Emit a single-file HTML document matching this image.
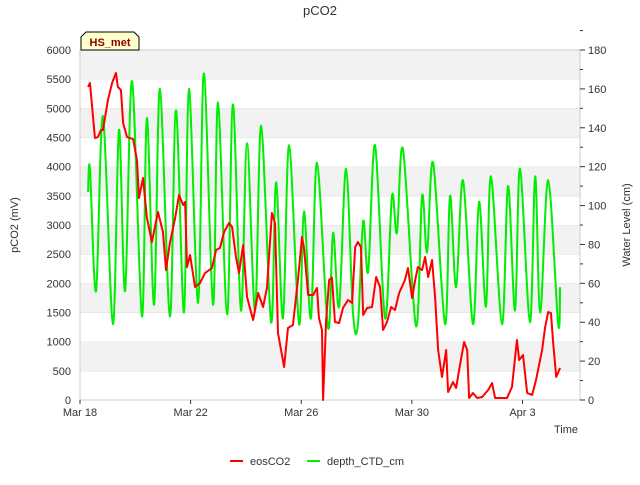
<!DOCTYPE html>
<html><head><meta charset="utf-8"><style>
body{margin:0;background:#fff}
svg text{font-family:"Liberation Sans","DejaVu Sans",sans-serif;fill:#333}
</style></head><body>
<svg id="chart" width="640" height="480" viewBox="0 0 640 480">
<g id="bands"></g>
<g id="axes"></g>
<g id="series" fill="none" stroke-linejoin="round"></g>
<text x="320" y="15" text-anchor="middle" font-size="13">pCO2</text>
<text transform="translate(18,225) rotate(-90)" text-anchor="middle" font-size="11">pCO2 (mV)</text>
<text transform="translate(630,225) rotate(-90)" text-anchor="middle" font-size="11">Water Level (cm)</text>
<text x="566" y="433" text-anchor="middle" font-size="11">Time</text>
<g>
<path d="M81,50 L81,37 L86,32 L134,32 L139,37 L139,50 Z" fill="#ffffcc" stroke="#000" stroke-width="1"/>
<text x="110" y="46" text-anchor="middle" font-size="11" font-weight="bold" style="fill:#8b0000">HS_met</text>
</g>
<g>
<line x1="230" y1="461" x2="243" y2="461" stroke="#ff0000" stroke-width="2"/>
<text x="250" y="465" font-size="11">eosCO2</text>
</g>
<g>
<line x1="307" y1="461" x2="320" y2="461" stroke="#00ee00" stroke-width="2"/>
<text x="327" y="465" font-size="11">depth_CTD_cm</text>
</g>
</svg>
<script>
const xTickDays=[0,4,8,12,16];
const xTickLabels=["Mar 18","Mar 22","Mar 26","Mar 30","Apr 3"];
const leftTicks=[0,500,1000,1500,2000,2500,3000,3500,4000,4500,5000,5500,6000];
const rightTicks=[0,20,40,60,80,100,120,140,160,180];
const co2Days=[0.29,0.36,0.54,0.65,0.76,0.83,1.01,1.16,1.30,1.37,1.48,1.56,1.70,1.92,2.06,2.13,2.28,2.42,2.60,2.82,3.00,3.11,3.25,3.44,3.58,3.73,3.80,3.87,3.98,4.16,4.34,4.52,4.77,4.92,5.06,5.21,5.39,5.50,5.64,5.75,5.90,6.04,6.26,6.44,6.62,6.76,6.94,7.05,7.16,7.38,7.52,7.70,7.88,8.03,8.10,8.25,8.43,8.57,8.64,8.75,8.79,8.90,9.01,9.11,9.22,9.37,9.51,9.69,9.84,9.95,10.05,10.16,10.24,10.38,10.56,10.71,10.85,10.96,11.10,11.25,11.39,11.54,11.75,11.86,12.01,12.12,12.22,12.37,12.48,12.59,12.73,12.84,12.95,13.09,13.24,13.31,13.49,13.60,13.74,13.89,14.00,14.07,14.21,14.36,14.54,14.76,14.90,15.01,15.44,15.62,15.80,15.88,16.02,16.17,16.35,16.49,16.71,16.82,16.93,17.03,17.11,17.22,17.36];
const co2Values=[5366,5434,4491,4508,4628,4628,5142,5434,5605,5366,5314,4748,4508,4474,4114,3463,3805,3120,2708,3222,2880,2228,2691,3120,3514,3342,3394,2280,2485,1937,2005,2177,2262,2571,2605,2880,3034,2966,2451,2177,2657,1765,1371,1834,1594,1920,3205,3034,1148,566,1234,1285,2057,2794,2605,1800,1800,1920,1405,1200,0,1371,2057,2100,1337,1320,1577,1714,1663,2622,2708,2622,1457,1577,1594,2108,1937,1200,1337,1594,1543,1834,2057,2262,1748,2057,2280,2228,2451,2108,2400,1765,857,394,857,137,308,206,600,994,857,34,120,34,51,171,291,34,34,223,1028,686,771,120,86,343,857,1251,1508,1491,977,394,548];
const depthDays=[0.29,0.36,0.58,0.83,1.19,1.41,1.63,1.88,2.24,2.42,2.68,2.89,3.25,3.47,3.76,3.94,4.27,4.48,4.81,4.99,5.32,5.53,5.82,6.04,6.33,6.55,6.91,7.09,7.34,7.56,7.92,8.10,8.35,8.57,8.97,9.15,9.37,9.62,9.87,10.05,10.24,10.42,10.67,11.03,11.28,11.46,11.68,12.15,12.37,12.55,12.77,13.20,13.38,13.60,13.85,14.21,14.43,14.68,14.86,15.26,15.48,15.73,15.91,16.27,16.46,16.64,16.93,17.29,17.36];
const depthValues=[107,119,56,146,39,139,56,164,43,145,49,160,43,149,45,160,50,168,49,153,44,152,46,132,46,141,40,112,42,131,39,97,42,122,37,86,48,119,45,39,92,66,131,42,105,86,129,38,105,76,122,39,105,58,113,39,102,48,115,39,110,46,119,40,115,45,113,39,58];

const L=80,R=580,T=50,B=400,DMAX=18.08;
const ns="http://www.w3.org/2000/svg";
const X=d=>L+d/DMAX*(R-L);
const YL=v=>B-v/6000*(B-T);
const YR=v=>B-v/180*(B-T);
function mk(tag,attrs,parent){const e=document.createElementNS(ns,tag);for(const k in attrs)e.setAttribute(k,attrs[k]);parent.appendChild(e);return e;}
const bands=document.getElementById('bands'),axes=document.getElementById('axes'),series=document.getElementById('series');
for(let i=0;i<leftTicks.length-1;i++){
  const y1=YL(leftTicks[i+1]),y2=YL(leftTicks[i]);
  const r=mk('rect',{x:L,y:y1,width:R-L,height:y2-y1,fill:(i%2==1)?'#f2f2f2':'#ffffff'},bands);
  
  
  const g=mk('line',{x1:L,x2:R,y1:y1,y2:y1,stroke:'#dddddd','stroke-width':1},bands);
  
  
}
mk('rect',{x:L,y:T,width:R-L,height:B-T,fill:'none',stroke:'#cccccc','stroke-width':1},axes);
leftTicks.forEach(v=>{
  const t=mk('text',{x:L-9,y:YL(v)+4,'text-anchor':'end','font-size':11},axes);t.textContent=v;
  
  
});
rightTicks.forEach(v=>{
  mk('line',{x1:R,x2:R+5,y1:YR(v),y2:YR(v),stroke:'#333'},axes);
  mk('line',{x1:R,x2:R+3,y1:YR(v+10),y2:YR(v+10),stroke:'#333'},axes);
  const t=mk('text',{x:R+8,y:YR(v)+4,'font-size':11},axes);t.textContent=v;
  
  
});
xTickDays.forEach((d,i)=>{
  mk('line',{x1:X(d),x2:X(d),y1:B,y2:B+4,stroke:'#333'},axes);
  const t=mk('text',{x:X(d),y:B+16,'text-anchor':'middle','font-size':11},axes);t.textContent=xTickLabels[i];
  
  
});
function smooth(pts){
  let d='M'+pts[0][0]+','+pts[0][1];
  for(let i=0;i<pts.length-1;i++){
    const p0=pts[Math.max(0,i-1)],p1=pts[i],p2=pts[i+1],p3=pts[Math.min(pts.length-1,i+2)];
    const c1x=p1[0]+(p2[0]-p0[0])/6,c1y=p1[1]+(p2[1]-p0[1])/6;
    const c2x=p2[0]-(p3[0]-p1[0])/6,c2y=p2[1]-(p3[1]-p1[1])/6;
    d+=' C'+c1x+','+c1y+' '+c2x+','+c2y+' '+p2[0]+','+p2[1];
  }
  return d;
}
const dp=mk('path',{d:smooth(depthDays.map((d,i)=>[X(d),YR(depthValues[i])])),stroke:'#00ee00','stroke-width':2},series);


const cp=mk('path',{d:'M'+co2Days.map((d,i)=>X(d)+','+YL(co2Values[i])).join(' L'),stroke:'#ff0000','stroke-width':2},series);


</script>
</body></html>
